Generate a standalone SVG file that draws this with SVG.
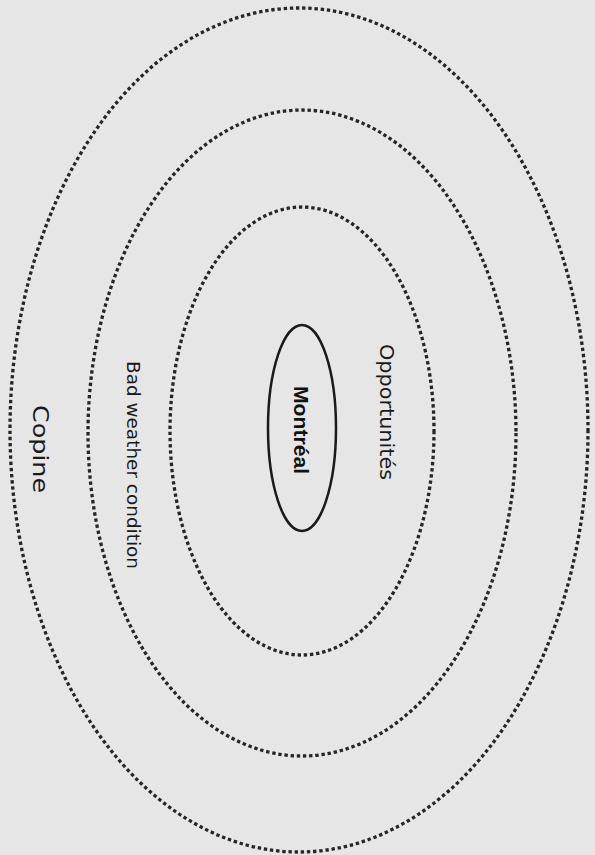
<svg xmlns="http://www.w3.org/2000/svg" width="595" height="855" viewBox="0 0 595 855">
<style>
.ring{fill:none;stroke:#262626;stroke-width:3.3;stroke-dasharray:3.4 2.8}
.core{fill:none;stroke:#1a1a1a;stroke-width:2.5}
.hand{font-family:"DejaVu Sans","Liberation Sans",sans-serif;fill:#1a1a1a;text-anchor:middle;dominant-baseline:central}
.city{font-family:"Liberation Sans",Arial,sans-serif;font-weight:bold;fill:#111;text-anchor:middle;dominant-baseline:central}
</style>
<rect width="595" height="855" fill="#e6e6e6"/>
<g id="copine">
<ellipse class="ring" cx="299" cy="430" rx="289" ry="422"/>
<text class="hand" transform="translate(40,449) rotate(90)" font-size="21" textLength="88" lengthAdjust="spacingAndGlyphs">Copine</text>
</g>
<g id="bad-weather">
<ellipse class="ring" cx="302" cy="433" rx="214" ry="323"/>
<text class="hand" transform="translate(133,465) rotate(90)" font-size="18" textLength="208" lengthAdjust="spacingAndGlyphs">Bad weather condition</text>
</g>
<g id="opportunites">
<ellipse class="ring" cx="302" cy="431" rx="132" ry="224"/>
<text class="hand" transform="translate(387,412) rotate(90)" font-size="20" textLength="136" lengthAdjust="spacingAndGlyphs">Opportunités</text>
</g>
<g id="montreal">
<ellipse class="core" cx="302" cy="428" rx="34" ry="103"/>
<text class="city" transform="translate(301,430) rotate(90)" font-size="20" textLength="88" lengthAdjust="spacingAndGlyphs">Montréal</text>
</g>
<g id="connectors"/>
</svg>
